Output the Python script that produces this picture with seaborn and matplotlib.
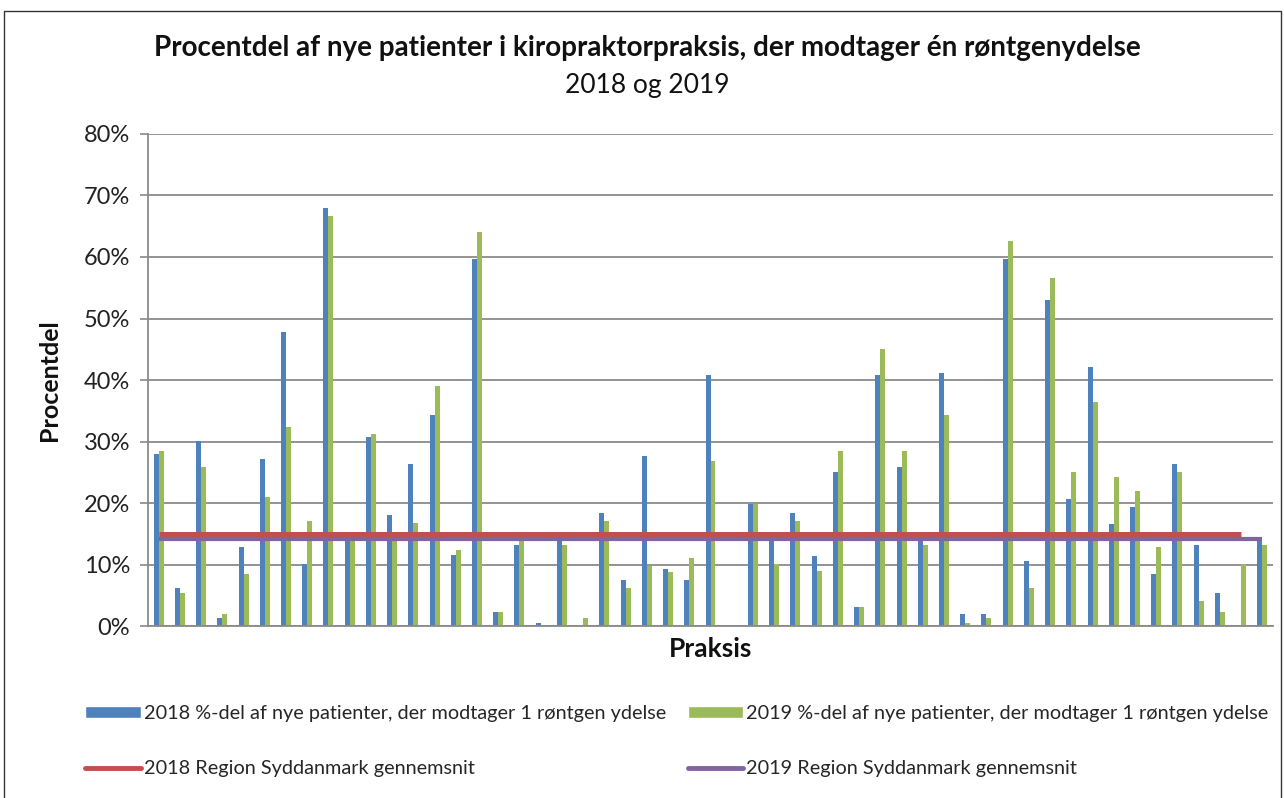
import matplotlib
matplotlib.use("Agg")
import matplotlib.pyplot as plt
import seaborn as sns
import pandas as pd
from matplotlib.ticker import PercentFormatter
from matplotlib.patches import Patch, Rectangle
from matplotlib.lines import Line2D

# Data (share of new patients, 53 practices)
praksis = [str(i) for i in range(1, 54)]

pct_2018 = [28.0, 6.2, 30.1, 1.3, 12.8, 27.2, 47.8, 10.1, 67.9, 14.5,
            30.8, 18.0, 26.3, 34.3, 11.5, 59.7, 2.3, 13.2, 0.5, 14.5,
            0.0, 18.4, 7.5, 27.7, 9.2, 7.5, 40.8, 0.0, 19.8, 14.5,
            18.4, 11.4, 25.1, 3.1, 40.8, 25.9, 14.3, 41.2, 1.9, 1.9,
            59.7, 10.5, 53.0, 20.6, 42.1, 16.6, 19.3, 8.4, 26.4, 13.2,
            5.4, 0.0, 13.8]

pct_2019 = [28.5, 5.4, 25.9, 1.9, 8.5, 21.0, 32.4, 17.1, 66.6, 14.0,
            31.2, 14.3, 16.7, 39.0, 12.4, 64.0, 2.3, 13.8, 0.0, 13.2,
            1.3, 17.1, 6.2, 9.8, 8.8, 11.1, 26.8, 0.0, 19.8, 10.1,
            17.1, 8.9, 28.5, 3.1, 45.1, 28.5, 13.2, 34.3, 0.5, 1.3,
            62.6, 6.2, 56.6, 25.1, 36.4, 24.2, 22.0, 12.8, 25.1, 4.1,
            2.3, 10.1, 13.2]

# regional averages (2018 series stops one practice earlier)
avg_2018 = [14.9] * 52
avg_2019 = [14.2] * 53

label_2018 = "2018 %-del af nye patienter, der modtager 1 røntgen ydelse"
label_2019 = "2019 %-del af nye patienter, der modtager 1 røntgen ydelse"
label_avg_2018 = "2018 Region Syddanmark gennemsnit"
label_avg_2019 = "2019 Region Syddanmark gennemsnit"

colors = {"2018": "#4F81BD", "2019": "#9BBB59"}

df = pd.DataFrame({
    "Praksis": praksis * 2,
    "År": ["2018"] * len(praksis) + ["2019"] * len(praksis),
    "Andel": [v / 100 for v in pct_2018] + [v / 100 for v in pct_2019],
})

sns.set_theme(style="white")
plt.rcParams["font.family"] = ["Lato", "DejaVu Sans"]

fig = plt.figure(figsize=(12.84, 7.98), dpi=100)
ax = fig.add_axes([0.1153, 0.2155, 0.8761, 0.6166])

sns.barplot(data=df, x="Praksis", y="Andel", hue="År", order=praksis,
            palette=colors, width=0.47, gap=0, legend=False, ax=ax,
            saturation=1, errorbar=None, linewidth=0, zorder=2)

ax.plot(range(len(avg_2018)), [v / 100 for v in avg_2018], color="#C0504D",
        lw=3.6, zorder=3, solid_capstyle="butt")
ax.plot(range(len(avg_2019)), [v / 100 for v in avg_2019], color="#8064A2",
        lw=3.0, zorder=3, solid_capstyle="butt")

ax.set_xlim(-0.5, len(praksis) - 0.5)
ax.set_ylim(0, 0.8)
ax.set_yticks([i / 10 for i in range(9)])
ax.yaxis.set_major_formatter(PercentFormatter(1.0, decimals=0))
ax.set_xticks([])
ax.grid(axis="y", color="#8a8a8a", lw=1.3, zorder=0)
ax.set_axisbelow(True)
for side in ["top", "right"]:
    ax.spines[side].set_visible(False)
for side in ["left", "bottom"]:
    ax.spines[side].set_color("#8a8a8a")
    ax.spines[side].set_linewidth(1.3)
ax.tick_params(axis="y", direction="out", length=6, width=1.2, color="#8a8a8a",
               labelsize=17, labelcolor="#222222", pad=7, left=True)

ax.set_xlabel("Praksis", fontsize=19, fontweight="bold", color="#111111", va="top")
ax.xaxis.set_label_coords(0.5, -0.023)
ax.set_ylabel("Procentdel", fontsize=18, fontweight="bold", color="#111111")
ax.yaxis.set_label_coords(-0.077, 0.5)

fig.text(0.504, 0.94, "Procentdel af nye patienter i kiropraktorpraksis, der modtager én røntgenydelse",
         ha="center", va="center", fontsize=20, fontweight="bold", color="#111111")
fig.text(0.504, 0.893, "2018 og 2019", ha="center", va="center", fontsize=19, color="#111111")

handles = [
    Patch(facecolor=colors["2018"], label=label_2018),
    Line2D([0], [0], color="#C0504D", lw=3.5, label=label_avg_2018),
    Patch(facecolor=colors["2019"], label=label_2019),
    Line2D([0], [0], color="#8064A2", lw=3.5, label=label_avg_2019),
]
fig.legend(handles=handles, ncol=2, loc="upper left", bbox_to_anchor=(0.0662, 0.116),
           frameon=False, fontsize=14.3, handlelength=2.8, handleheight=0.55,
           labelspacing=1.9, columnspacing=1.1, handletextpad=0.15,
           borderpad=0, borderaxespad=0)

fig.add_artist(Rectangle((0.0035, -0.01), 0.994, 0.996, transform=fig.transFigure,
                         fill=False, edgecolor="#333333", lw=1.0))

fig.savefig("out.png", dpi=100)
